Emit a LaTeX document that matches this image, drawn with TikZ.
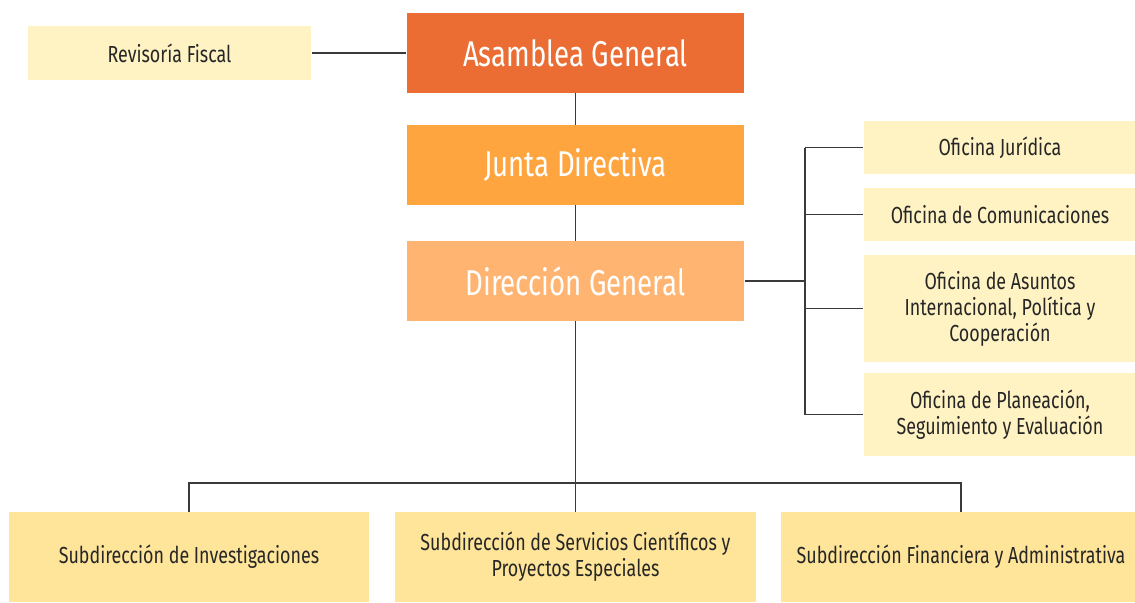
\documentclass[tikz,border=0pt]{standalone}
\usepackage{fontspec}
\setmainfont{Fira Sans}[FakeStretch=0.77]
\usepackage{tikz}
\usetikzlibrary{positioning}

\definecolor{asamblea}{HTML}{EB6D33}
\definecolor{junta}{HTML}{FFA53F}
\definecolor{direccion}{HTML}{FFB571}
\definecolor{oficina}{HTML}{FFF3C4}
\definecolor{subdir}{HTML}{FFE599}
\definecolor{linea}{HTML}{3A3A3A}

\tikzset{
  mainbox/.style={rectangle, minimum width=3.37cm, minimum height=0.79cm, text=white,
    font=\fontsize{10.2}{12}\selectfont},
  smallbox/.style={rectangle, fill=oficina, text=black!85, align=center,
    font=\fontsize{6.6}{7.4}\selectfont},
  subbox/.style={rectangle, fill=subdir, text=black!85, align=center, minimum width=3.6cm,
    minimum height=0.89cm, font=\fontsize{6.6}{7.4}\selectfont},
  link/.style={draw=linea, line width=0.5pt}
}

\begin{document}
\begin{tikzpicture}[x=0.01cm, y=-0.01cm]
\useasboundingbox (0,0) rectangle (1135,602);
\fill[white] (0,0) rectangle (1135,602);

% top of the chart
\node[mainbox, fill=asamblea] (asam) at (575.5,53) {Asamblea General};
\node[mainbox, fill=junta] (junta) at (575.5,165) {Junta Directiva};
\node[mainbox, fill=direccion] (dir) at (575.5,281) {Dirección General};
\node[smallbox, minimum width=2.83cm, minimum height=0.54cm] (rev) at (169.5,53) {Revisoría Fiscal};

% offices
\node[smallbox, minimum width=2.72cm, minimum height=0.53cm] (jur) at (1000,147.5) {Oficina Jurídica};
\node[smallbox, minimum width=2.72cm, minimum height=0.53cm] (com) at (1000,214.5) {Oficina de Comunicaciones};
\node[smallbox, minimum width=2.72cm, minimum height=1.07cm] (asu) at (1000,308.5) {Oficina de Asuntos\\Internacional, Política y\\Cooperación};
\node[smallbox, minimum width=2.72cm, minimum height=0.83cm] (pla) at (1000,414.5) {Oficina de Planeación,\\Seguimiento y Evaluación};

% subdirecciones
\node[subbox] (inv) at (189,557) {Subdirección de Investigaciones};
\node[subbox] (ser) at (575.5,557) {Subdirección de Servicios Científicos y\\Proyectos Especiales};
\node[subbox] (fin) at (961,557) {Subdirección Financiera y Administrativa};

% connectors
\draw[link] (rev.east) -- (asam.west);
\draw[link] (asam.south) -- (junta.north);
\draw[link] (junta.south) -- (dir.north);
\coordinate (bus) at (805,281);
\draw[link] (dir.east) -- (bus);
\draw[link] (jur.west -| bus) -- (pla.west -| bus);
\foreach \o in {jur,com,asu,pla}
  \draw[link] (\o.west) -- (\o.west -| bus);
\coordinate (barra) at (575.5,483);
\draw[link] (dir.south) -- (ser.north);
\draw[link] (inv.north) |- (barra) -| (fin.north);
\end{tikzpicture}
\end{document}
